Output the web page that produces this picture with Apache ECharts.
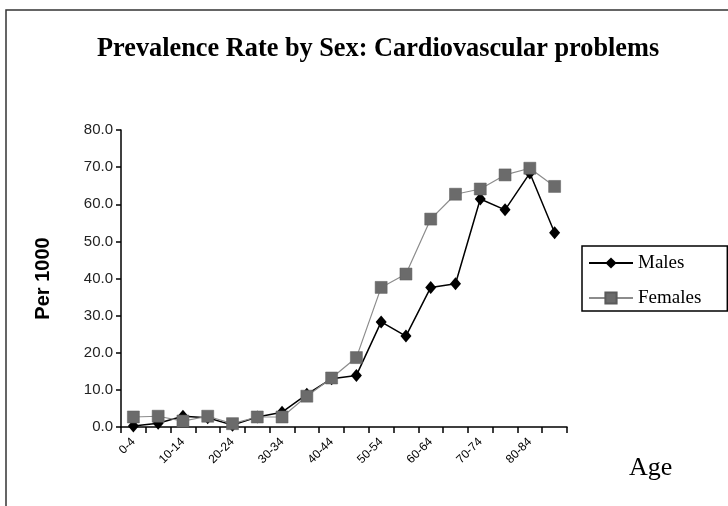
<!DOCTYPE html>
<html>
<head>
<meta charset="utf-8">
<script src="https://cdn.jsdelivr.net/npm/echarts@6/dist/echarts.min.js"></script>
<style>
html,body{margin:0;padding:0;background:#fff;}
#chart{width:728px;height:506px;}
</style>
</head>
<body>
<div id="chart"></div>
<script>
var categories = ['0-4','5-9','10-14','15-19','20-24','25-29','30-34','35-39','40-44','45-49','50-54','55-59','60-64','65-69','70-74','75-79','80-84','85+'];
var males   = [0.3, 1.0, 2.9, 2.5, 0.5, 2.7, 4.0, 8.8, 13.0, 13.9, 28.3, 24.5, 37.6, 38.6, 61.4, 58.5, 68.4, 52.3];
var females = [2.7, 2.9, 1.6, 2.9, 0.9, 2.7, 2.7, 8.3, 13.2, 18.7, 37.6, 41.2, 56.0, 62.7, 64.1, 67.9, 69.7, 64.8];
var yTicks = [0, 10, 20, 30, 40, 50, 60, 70, 80];

var chart = echarts.init(document.getElementById('chart'), null, {renderer:'canvas'});
var option = {
  animation: false,
  backgroundColor: '#fff',
  title: {
    text: 'Prevalence Rate by Sex: Cardiovascular problems',
    left: 92, top: 31,
    textStyle: {fontFamily: 'Liberation Serif', fontWeight: 'bold', fontSize: 26.3, color: '#000'}
  },
  grid: {left: 121, right: 161, top: 130, bottom: 79, containLabel: false},
  legend: {
    orient: 'vertical',
    left: 582, top: 246,
    padding: [7, 26, 3, 6],
    borderColor: '#000', borderWidth: 1.5,
    itemWidth: 44, itemHeight: 14, itemGap: 15, itemTextGap: 7,
    textStyle: {fontFamily: 'Liberation Serif', fontSize: 19, color: '#000', lineHeight: 20},
    data: ['Males', 'Females']
  },
  xAxis: {
    type: 'category',
    data: categories,
    boundaryGap: true,
    axisLine: {lineStyle: {color: '#000', width: 1.5}},
    axisTick: {show: true, alignWithLabel: false, interval: 0, length: 6, lineStyle: {color: '#000', width: 1.5}},
    axisLabel: {interval: 1, rotate: 45, fontFamily: 'Liberation Sans', fontSize: 12, color: '#000', margin: 13},
    splitLine: {show: false}
  },
  yAxis: {
    type: 'value',
    min: yTicks[0], max: yTicks[yTicks.length - 1], interval: 10,
    name: 'Per 1000',
    nameLocation: 'middle',
    nameGap: 68,
    nameRotate: 90,
    nameTextStyle: {fontFamily: 'Liberation Sans', fontWeight: 'bold', fontSize: 20, color: '#000'},
    axisLine: {show: true, lineStyle: {color: '#000', width: 1.5}},
    axisTick: {show: true, length: 5, lineStyle: {color: '#000', width: 1.5}},
    axisLabel: {formatter: function (v) { return v.toFixed(1); }, fontFamily: 'Liberation Sans', fontSize: 15, color: '#222', margin: 8},
    splitLine: {show: false}
  },
  series: [
    {
      name: 'Males', type: 'line', data: males,
      symbol: 'diamond', symbolSize: [11, 13],
      lineStyle: {color: '#000', width: 1.5},
      itemStyle: {color: '#000'},
      z: 3
    },
    {
      name: 'Females', type: 'line', data: females,
      symbol: 'rect', symbolSize: 12,
      lineStyle: {color: '#8c8c8c', width: 1.2},
      itemStyle: {color: '#6b6b6b', borderColor: '#5a5a5a', borderWidth: 0.5},
      z: 4
    }
  ],
  graphic: [
    {type: 'rect', shape: {x: 6, y: 10, width: 740, height: 520}, style: {fill: 'none', stroke: '#333', lineWidth: 1.5}, silent: true, z: -1},
    {type: 'text', left: 629, top: 455, style: {text: 'Age', fontFamily: 'Liberation Serif', fontSize: 26, fill: '#000'}}
  ]
};
chart.setOption(option);
</script>
</body>
</html>
